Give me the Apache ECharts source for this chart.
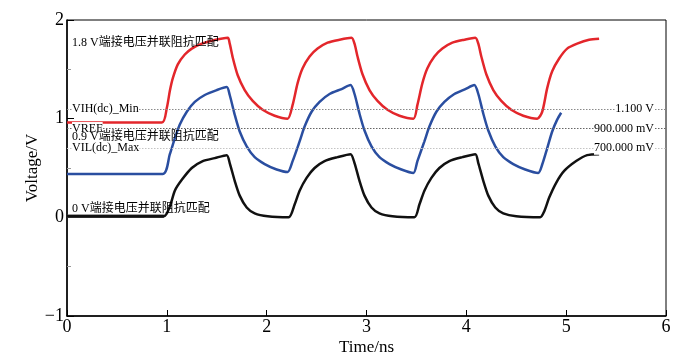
<!DOCTYPE html>
<html>
<head>
<meta charset="utf-8">
<script src="https://cdn.jsdelivr.net/npm/echarts@6/dist/echarts.min.js"></script>
<style>html,body{margin:0;padding:0;background:#fff}#c{width:682px;height:361px}</style>
</head>
<body>
<div id="c"></div>
<script>
// ---- data (time in ns, voltage in V) ----
const red18 = [[0,0.96],[0.95,0.96],[1.00,1.11],[1.03,1.28],[1.06,1.41],[1.11,1.55],[1.18,1.65],[1.25,1.71],[1.35,1.76],[1.45,1.79],[1.61,1.82],
 [1.63,1.76],[1.66,1.62],[1.71,1.44],[1.78,1.29],[1.86,1.18],[1.96,1.09],[2.08,1.03],[2.21,1.00],
 [2.26,1.14],[2.31,1.36],[2.36,1.51],[2.43,1.63],[2.51,1.71],[2.61,1.77],[2.73,1.80],[2.85,1.82],
 [2.88,1.76],[2.91,1.63],[2.96,1.45],[3.03,1.29],[3.11,1.18],[3.21,1.09],[3.33,1.03],[3.47,1.00],
 [3.51,1.14],[3.56,1.36],[3.61,1.51],[3.68,1.63],[3.76,1.71],[3.86,1.77],[3.98,1.80],[4.09,1.82],
 [4.12,1.76],[4.15,1.63],[4.20,1.45],[4.27,1.29],[4.35,1.18],[4.45,1.09],[4.57,1.03],[4.71,1.00],
 [4.76,1.07],[4.81,1.31],[4.86,1.48],[4.93,1.61],[5.01,1.71],[5.11,1.76],[5.23,1.80],[5.33,1.81]];
const blue09 = [[0,0.44],[0.96,0.44],[1.03,0.64],[1.08,0.80],[1.13,0.94],[1.20,1.07],[1.28,1.17],[1.38,1.24],[1.50,1.29],[1.60,1.32],
 [1.63,1.24],[1.68,1.04],[1.73,0.87],[1.80,0.72],[1.88,0.61],[1.98,0.54],[2.10,0.485],[2.21,0.46],
 [2.26,0.57],[2.33,0.77],[2.38,0.92],[2.45,1.07],[2.53,1.17],[2.63,1.25],[2.75,1.30],[2.84,1.34],
 [2.88,1.25],[2.93,1.05],[2.98,0.88],[3.05,0.72],[3.13,0.61],[3.23,0.54],[3.35,0.485],[3.47,0.45],
 [3.51,0.57],[3.58,0.77],[3.63,0.92],[3.70,1.07],[3.78,1.17],[3.88,1.25],[3.99,1.30],[4.08,1.34],
 [4.12,1.25],[4.17,1.05],[4.22,0.88],[4.29,0.72],[4.37,0.61],[4.47,0.54],[4.59,0.485],[4.72,0.45],
 [4.76,0.535],[4.81,0.70],[4.86,0.87],[4.91,0.99],[4.95,1.06]];
const black0 = [[0,0.01],[0.97,0.01],[1.03,0.11],[1.08,0.27],[1.15,0.38],[1.25,0.50],[1.36,0.57],[1.48,0.60],[1.60,0.63],
 [1.63,0.55],[1.68,0.37],[1.73,0.22],[1.80,0.10],[1.88,0.04],[2.01,0.01],[2.22,0.0],
 [2.28,0.13],[2.33,0.27],[2.40,0.40],[2.48,0.50],[2.58,0.57],[2.71,0.61],[2.84,0.64],
 [2.88,0.55],[2.93,0.37],[2.98,0.22],[3.05,0.10],[3.13,0.04],[3.26,0.01],[3.48,0.0],
 [3.53,0.13],[3.58,0.27],[3.65,0.40],[3.73,0.50],[3.83,0.57],[3.96,0.61],[4.09,0.64],
 [4.12,0.55],[4.17,0.37],[4.22,0.22],[4.29,0.10],[4.37,0.04],[4.50,0.01],[4.74,0.0],
 [4.78,0.06],[4.83,0.20],[4.90,0.35],[4.98,0.47],[5.10,0.57],[5.21,0.63],[5.33,0.64]];
const black0Flat = [[0,0.01],[0.97,0.01]];
const refLevels = [1.1, 0.9, 0.7];
const refLeftLabels = ['VIH(dc)_Min', 'VREF', 'VIL(dc)_Max'];
const refRightLabels = ['1.100 V', '900.000 mV', '700.000 mV'];
const curveLabels = ['1.8 V端接电压并联阻抗匹配', '0.9 V端接电压并联阻抗匹配', '0 V端接电压并联阻抗匹配'];
const curveLabelLevels = [1.77, 0.82, 0.09];
const labelX = 0.05, rightLabelX = 5.88;
const xTicks = [0, 6, 1];   // min, max, interval
const yTicks = [-1, 2, 1];

const SERIF = '"Liberation Serif","Times New Roman","Noto Sans CJK SC",serif';
const chart = echarts.init(document.getElementById('c'));
const refColors = ['#8a8a8a', '#666666', '#c4c4c4'];
chart.setOption({
  animation: false,
  grid: {left: 67, right: 16, top: 20, bottom: 44, show: true, borderColor: '#000', borderWidth: 1},
  xAxis: {
    type: 'value', min: xTicks[0], max: xTicks[1], interval: xTicks[2],
    name: 'Time/ns', nameLocation: 'middle', nameGap: 23, nameMoveOverlap: false,
    nameTextStyle: {fontFamily: SERIF, fontSize: 17, color: '#000'},
    axisLine: {onZero: false, lineStyle: {color: '#000', width: 1.5}},
    axisTick: {inside: true, length: 6, lineStyle: {color: '#000'}},
    axisLabel: {fontFamily: SERIF, fontSize: 18, color: '#000', margin: 2},
    splitLine: {show: false}
  },
  yAxis: {
    type: 'value', min: yTicks[0], max: yTicks[1], interval: yTicks[2],
    name: 'Voltage/V', nameLocation: 'middle', nameGap: 26, nameMoveOverlap: false,
    nameTextStyle: {fontFamily: SERIF, fontSize: 17, color: '#000'},
    axisLine: {onZero: false, lineStyle: {color: '#000', width: 1.5}},
    axisTick: {inside: true, length: 7, lineStyle: {color: '#000'}},
    minorTick: {show: true, splitNumber: 2, length: 4, lineStyle: {color: '#999'}},
    axisLabel: {fontFamily: SERIF, fontSize: 18, color: '#000', margin: 3,
      formatter: v => String(v).replace('-', '\u2212')},
    splitLine: {show: false}
  },
  series: [
    {type: 'line', name: 'ref', data: [], z: 1, silent: true,
     markLine: {symbol: 'none', silent: true, label: {show: false},
       data: refLevels.map((v, i) => ({yAxis: v, lineStyle: {type: [1.5, 1.5], color: refColors[i], width: 1}}))}},
    {type: 'line', name: '0 V flat', data: black0Flat, showSymbol: false, z: 2,
     lineStyle: {color: '#444', width: 3.5}},
    {type: 'line', name: '1.8 V', data: red18, showSymbol: false, smooth: 0.25, z: 3,
     lineStyle: {color: '#e3262b', width: 2.5}},
    {type: 'line', name: '0.9 V', data: blue09, showSymbol: false, smooth: 0.25, z: 3,
     lineStyle: {color: '#2a4ea0', width: 2.5}},
    {type: 'line', name: '0 V', data: black0, showSymbol: false, smooth: 0.25, z: 3,
     lineStyle: {color: '#111', width: 2.5}}
  ]
});

const texts = [];
function addText(val, txt, align, bg) {
  const p = chart.convertToPixel({gridIndex: 0}, val);
  texts.push({type: 'text', x: p[0], y: p[1], z: 100,
    style: {text: txt, fill: '#000', font: '12px ' + SERIF, align: align, verticalAlign: 'middle',
      backgroundColor: bg ? '#fff' : null, padding: bg ? [1, 0, 0, 0] : 0}});
}
refLevels.forEach((v, i) => {
  addText([labelX, v], refLeftLabels[i], 'left', true);
  addText([rightLabelX, v], refRightLabels[i], 'right', true);
});
curveLabels.forEach((t, i) => addText([labelX, curveLabelLevels[i]], t, 'left', false));
chart.setOption({graphic: texts});
</script>
</body>
</html>
